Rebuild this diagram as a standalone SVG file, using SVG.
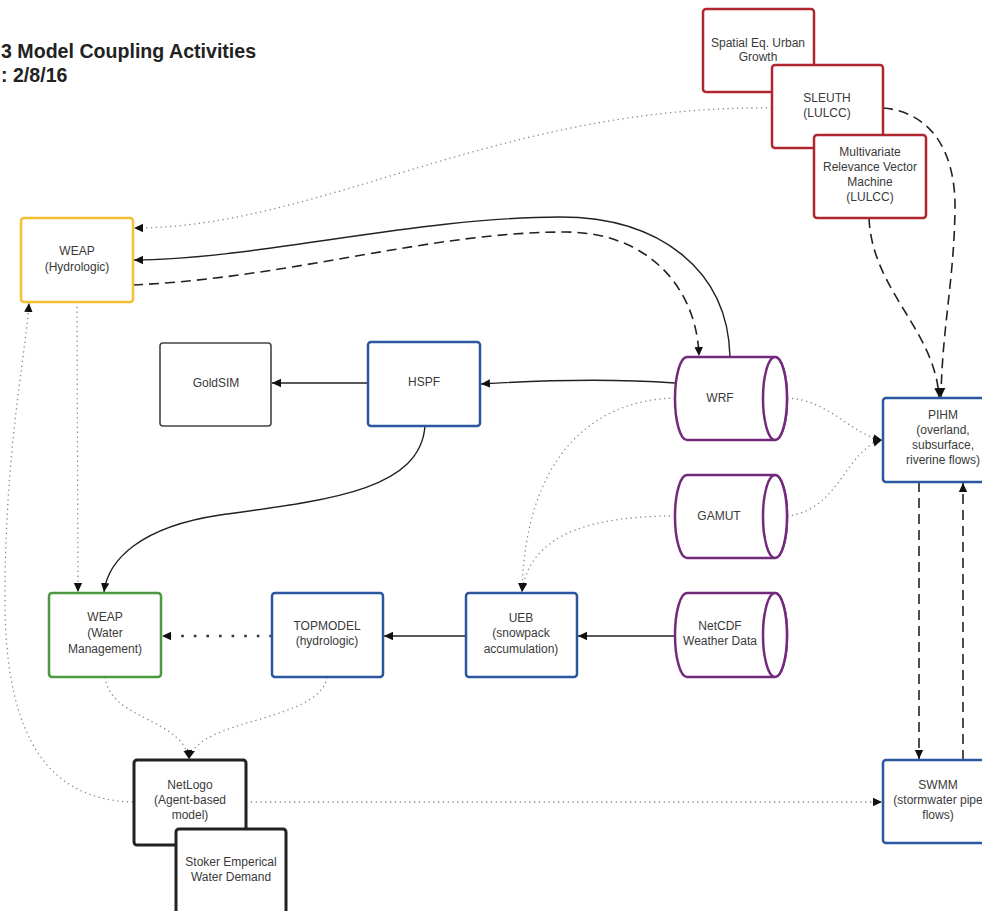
<svg xmlns="http://www.w3.org/2000/svg" width="982" height="911" viewBox="0 0 982 911">
<defs>
<style>
text{font-family:"Liberation Sans",Arial,sans-serif;font-size:12px;fill:#3a3a3a;text-anchor:middle}
.title{font-size:19.6px;font-weight:bold;fill:#222;text-anchor:start}
.box{fill:#fff;stroke-width:2.5}
.red{stroke:#b0262e}
.yel{stroke:#f6c034}
.grn{stroke:#4c9a40}
.blu{stroke:#2b56a0}
.blk{stroke:#222;stroke-width:3}
.gry{stroke:#444;stroke-width:1.6}
.cyl{fill:#fff;stroke:#732a7d;stroke-width:2.5}
.c{fill:none}
.solid{stroke:#222;stroke-width:1.4}
.dash{stroke:#222;stroke-width:1.6;stroke-dasharray:10 6}
.dot{stroke:#888;stroke-width:1.3;stroke-dasharray:1.3 3.5}
.bdot{stroke:#333;stroke-width:2.6;stroke-dasharray:2.6 10}
</style>
<marker id="ah" markerUnits="userSpaceOnUse" markerWidth="10" markerHeight="10" viewBox="0 0 10 10" refX="9" refY="5" orient="auto">
<path d="M0,0.8 L9,5 L0,9.2 z" fill="#111"/>
</marker>
</defs>
<rect width="982" height="911" fill="#fff"/>
<text class="title" x="1" y="58">3 Model Coupling Activities</text>
<text class="title" x="1" y="82">: 2/8/16</text>

<g id="connectors">
<path class="c dot" d="M772,108 C500,105 320,228 134,228" marker-end="url(#ah)"/>
<path class="c solid" d="M730,357 C728,270 660,217 560,217 C420,217 250,260 134,260" marker-end="url(#ah)"/>
<path class="c dash" d="M133,285 C290,278 430,232 565,232 C650,232 697,290 699,356" marker-end="url(#ah)"/>
<path class="c solid" d="M675,383 C620,379 560,379 481,384" marker-end="url(#ah)"/>
<path class="c solid" d="M368,383 L272,383" marker-end="url(#ah)"/>
<path class="c solid" d="M425,426 C420,490 330,500 220,515 C140,527 108,560 104,592" marker-end="url(#ah)"/>
<path class="c dot" d="M77,302 L78,592" marker-end="url(#ah)"/>
<path class="c dot" d="M133,802 C50,800 5,740 5,600 C5,450 25,360 29,303" marker-end="url(#ah)"/>
<path class="c bdot" d="M272,636 L162,636" marker-end="url(#ah)"/>
<path class="c solid" d="M466,636 L384,636" marker-end="url(#ah)"/>
<path class="c solid" d="M675,636 L578,636" marker-end="url(#ah)"/>
<path class="c dot" d="M675,398 C590,400 525,460 522,592" marker-end="url(#ah)"/>
<path class="c dot" d="M675,516 C600,516 530,530 522,592" marker-end="url(#ah)"/>
<path class="c dot" d="M787,398 C830,400 850,434 882,440" marker-end="url(#ah)"/>
<path class="c dot" d="M787,516 C840,510 845,450 882,440" marker-end="url(#ah)"/>
<path class="c dash" d="M883,108 C930,112 956,150 955,210 C954,280 942,330 941,397" marker-end="url(#ah)"/>
<path class="c dash" d="M869,218 C872,290 935,330 939,397" marker-end="url(#ah)"/>
<path class="c dash" d="M919,482 L919,759" marker-end="url(#ah)"/>
<path class="c dash" d="M963,760 L963,483" marker-end="url(#ah)"/>
<path class="c dot" d="M105,677 C110,720 182,718 189,759" marker-end="url(#ah)"/>
<path class="c dot" d="M327,677 C320,722 198,718 189,759" marker-end="url(#ah)"/>
<path class="c dot" d="M246,802 L882,802" marker-end="url(#ah)"/>
</g>

<g id="spatial-eq">
<rect class="box red" x="703" y="9" width="111" height="83" rx="3"/>
<text x="758" y="47">Spatial Eq. Urban</text>
<text x="758" y="61">Growth</text>
</g>
<g id="sleuth">
<rect class="box red" x="772" y="65" width="111" height="83" rx="3"/>
<text x="827" y="102">SLEUTH</text>
<text x="827" y="117">(LULCC)</text>
</g>
<g id="mrvm">
<rect class="box red" x="814" y="135" width="112" height="83" rx="3"/>
<text x="870" y="156">Multivariate</text>
<text x="870" y="171">Relevance Vector</text>
<text x="870" y="186">Machine</text>
<text x="870" y="201">(LULCC)</text>
</g>
<g id="weap-hydrologic">
<rect class="box yel" x="21" y="218" width="112" height="84" rx="3"/>
<text x="77" y="255">WEAP</text>
<text x="77" y="271">(Hydrologic)</text>
</g>
<g id="goldsim">
<rect class="box gry" x="160" y="343" width="111" height="83" rx="3"/>
<text x="216" y="387">GoldSIM</text>
</g>
<g id="hspf">
<rect class="box blu" x="368" y="342" width="112" height="84" rx="3"/>
<text x="424" y="386">HSPF</text>
</g>
<g id="wrf">
<path class="cyl" d="M687,357 L775,357 A12,41.5 0 0 1 775,440 L687,440 A12,41.5 0 0 1 687,357 Z"/>
<ellipse class="cyl" cx="775" cy="398.5" rx="12" ry="41.5"/>
<text x="720" y="402">WRF</text>
</g>
<g id="gamut">
<path class="cyl" d="M687,475 L775,475 A12,41.5 0 0 1 775,558 L687,558 A12,41.5 0 0 1 687,475 Z"/>
<ellipse class="cyl" cx="775" cy="516.5" rx="12" ry="41.5"/>
<text x="719" y="520">GAMUT</text>
</g>
<g id="netcdf">
<path class="cyl" d="M687,593 L775,593 A12,42 0 0 1 775,677 L687,677 A12,42 0 0 1 687,593 Z"/>
<ellipse class="cyl" cx="775" cy="635" rx="12" ry="42"/>
<text x="720" y="630">NetCDF</text>
<text x="720" y="645">Weather Data</text>
</g>
<g id="pihm">
<rect class="box blu" x="883" y="398" width="120" height="84" rx="3"/>
<text x="943" y="419">PIHM</text>
<text x="943" y="434">(overland,</text>
<text x="943" y="449">subsurface,</text>
<text x="943" y="464">riverine flows)</text>
</g>
<g id="weap-water-management">
<rect class="box grn" x="49" y="593" width="112" height="84" rx="3"/>
<text x="105" y="621">WEAP</text>
<text x="105" y="637">(Water</text>
<text x="105" y="653">Management)</text>
</g>
<g id="topmodel">
<rect class="box blu" x="272" y="593" width="111" height="84" rx="3"/>
<text x="327" y="630">TOPMODEL</text>
<text x="327" y="645">(hydrologic)</text>
</g>
<g id="ueb">
<rect class="box blu" x="466" y="593" width="111" height="84" rx="3"/>
<text x="521" y="622">UEB</text>
<text x="521" y="637">(snowpack</text>
<text x="521" y="653">accumulation)</text>
</g>
<g id="netlogo">
<rect class="box blk" x="134" y="760" width="112" height="85" rx="3"/>
<text x="190" y="789">NetLogo</text>
<text x="190" y="804">(Agent-based</text>
<text x="190" y="819">model)</text>
</g>
<g id="stoker">
<rect class="box blk" x="176" y="829" width="110" height="95" rx="3"/>
<text x="231" y="866">Stoker Emperical</text>
<text x="231" y="881">Water Demand</text>
</g>
<g id="swmm">
<rect class="box blu" x="883" y="760" width="120" height="83" rx="3"/>
<text x="938" y="789">SWMM</text>
<text x="938" y="804">(stormwater pipe</text>
<text x="938" y="819">flows)</text>
</g>
</svg>
